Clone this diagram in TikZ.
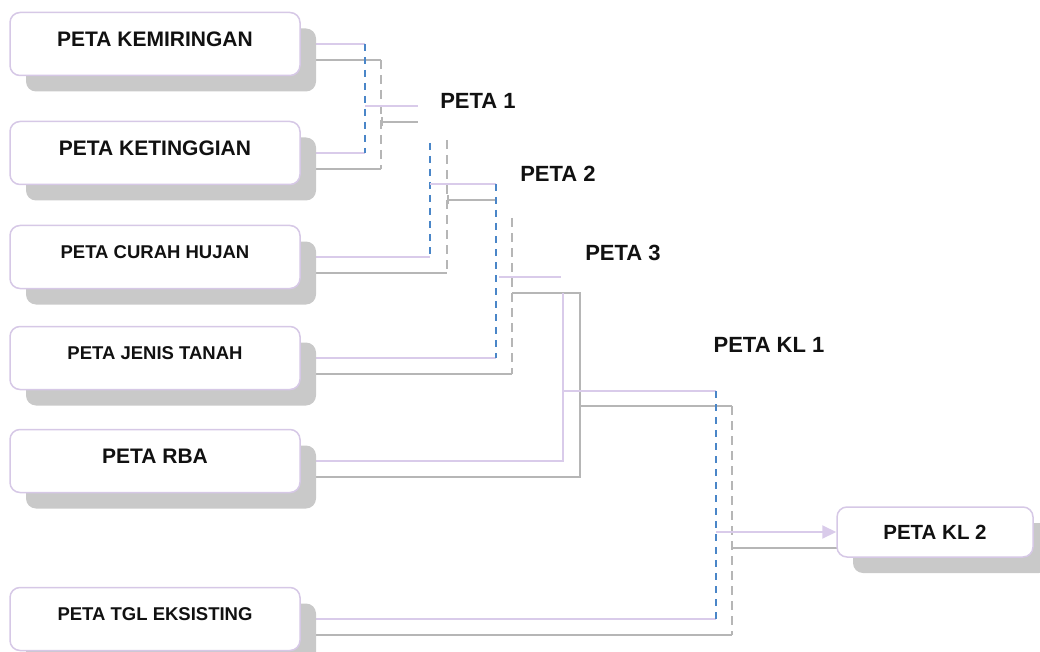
\documentclass[tikz,border=0pt]{standalone}
\usepackage{fontspec}
\setmainfont{Liberation Sans}
\usetikzlibrary{arrows.meta,backgrounds}
\definecolor{boxline}{HTML}{D6C8E6}
\definecolor{shadowgray}{HTML}{C9C9C9}
\definecolor{lav}{HTML}{D9CBEA}
\definecolor{graylinec}{HTML}{B6B6B6}
\definecolor{bluedashc}{HTML}{4A86C8}
\definecolor{txt}{HTML}{111111}
\tikzset{
  box/.style={draw=boxline, line width=1.5pt, fill=white, rounded corners=10pt,
    minimum width=290pt, minimum height=63pt, text depth=10pt, inner sep=0pt,
    text=txt, font=\bfseries\fontsize{21}{25}\selectfont},
  boxsmall/.style={box, font=\bfseries\fontsize{18.5}{22}\selectfont},
  shadowbox/.style={fill=shadowgray, rounded corners=10pt, draw=none,
    minimum width=290pt, minimum height=63pt, inner sep=0pt},
  klbox/.style={draw=boxline, line width=1.5pt, fill=white, rounded corners=10pt,
    minimum width=196pt, minimum height=50pt, inner sep=0pt, text depth=0pt,
    text=txt, font=\bfseries\fontsize{20.5}{24}\selectfont},
  klshadow/.style={fill=shadowgray, rounded corners=10pt, draw=none,
    minimum width=196pt, minimum height=50pt, inner sep=0pt},
  lbl/.style={text=txt, inner sep=0pt, font=\bfseries\fontsize{22}{26}\selectfont},
  lavline/.style={draw=lav, line width=2pt},
  grayline/.style={draw=graylinec, line width=2pt},
  bluedash/.style={draw=bluedashc, line width=2.4pt, dash pattern=on 7pt off 6pt},
  graydash/.style={draw=graylinec, line width=1.8pt, dash pattern=on 9pt off 6pt},
  graytick/.style={grayline, {Bar[width=9pt,line width=1.6pt]}-},
}
\begin{document}
\begin{tikzpicture}[x=1pt,y=-1pt]
\useasboundingbox (0,0) rectangle (1040,652);
% shadows
\node[shadowbox] (s1) at (171,60) {};
\node[shadowbox] (s2) at (171,169) {};
\node[shadowbox] (s3) at (171,273) {};
\node[shadowbox] (s4) at (171,374) {};
\node[shadowbox] (s5) at (171,477) {};
\node[shadowbox] (s6) at (171,635) {};
\node[klshadow] (skl) at (951,548) {};
% boxes
\node[box] (k1) at (155,44) {PETA KEMIRINGAN};
\node[box] (k2) at (155,153) {PETA KETINGGIAN};
\node[boxsmall] (k3) at (155,257) {PETA CURAH HUJAN};
\node[boxsmall] (k4) at (155,358) {PETA JENIS TANAH};
\node[box] (k5) at (155,461) {PETA RBA};
\node[boxsmall] (k6) at (155,619) {PETA TGL EKSISTING};
\node[klbox] (kl2) at (935,532) {PETA KL 2};
% labels
\node[lbl] (p1) at (478,101) {PETA 1};
\node[lbl] (p2) at (558,174) {PETA 2};
\node[lbl] (p3) at (623,253) {PETA 3};
\node[lbl] (pk1) at (769,345) {PETA KL 1};
% junction coordinates
\coordinate (b1) at (365,0);
\coordinate (g1) at (381,0);
\coordinate (o1) at (418,106);
\coordinate (o1g) at (418,122);
\coordinate (t2) at (430,143);
\coordinate (t2g) at (447,140);
\coordinate (o2) at (496,184);
\coordinate (o2g) at (495,200);
\coordinate (t3g) at (512,218);
\coordinate (o3) at (561,277);
\coordinate (o3s) at (499,277);
\coordinate (o3g) at (580,293);
\coordinate (v4) at (563,293);
\coordinate (m4) at (716,391);
\coordinate (m4g) at (732,406);
\coordinate (a5) at (716,532);
\coordinate (a5g) at (732,548);
\begin{pgfonlayer}{background}
% stage 1
\draw[lavline] (k1.east) -- (k1.east -| b1);
\draw[lavline] (k2.east) -- (k2.east -| b1);
\draw[grayline] (s1.east) -- (s1.east -| g1);
\draw[grayline] (s2.east) -- (s2.east -| g1);
\draw[bluedash] (k1.east -| b1) -- (k2.east -| b1);
\draw[graydash] (s1.east -| g1) -- (s2.east -| g1);
\draw[lavline] (o1 -| b1) -- (o1);
\draw[graytick] (o1g -| g1) -- (o1g);
% stage 2
\draw[lavline] (k3.east) -- (k3.east -| t2);
\draw[grayline] (s3.east) -- (s3.east -| t2g);
\draw[bluedash] (t2) -- (k3.east -| t2);
\draw[graydash] (t2g) -- (s3.east -| t2g);
\draw[lavline] (o2 -| t2) -- (o2);
\draw[graytick] (o2g -| t2g) -- (o2g);
% stage 3
\draw[lavline] (k4.east) -- (k4.east -| o2);
\draw[grayline] (s4.east) -- (s4.east -| t3g);
\draw[bluedash] (o2) -- (k4.east -| o2);
\draw[graydash] (t3g) -- (s4.east -| t3g);
\draw[lavline] (o3s) -- (o3);
\draw[grayline] (o3g -| t3g) -- (o3g) -- (s5.east -| o3g) -- (s5.east);
\draw[lavline] (v4) -- (k5.east -| v4) -- (k5.east);
% stage 4
\draw[lavline] (m4 -| v4) -- (m4);
\draw[grayline] (m4g -| o3g) -- (m4g);
\draw[lavline] (k6.east) -- (k6.east -| m4);
\draw[grayline] (s6.east) -- (s6.east -| m4g);
\draw[bluedash] (m4) -- (k6.east -| m4);
\draw[graydash] (m4g) -- (s6.east -| m4g);
% output
\draw[grayline] (a5g) -- (skl.west);
\draw[lavline, -{Triangle[length=14pt,width=13pt]}] (a5) -- (kl2.west);
\end{pgfonlayer}
\end{tikzpicture}
\end{document}
